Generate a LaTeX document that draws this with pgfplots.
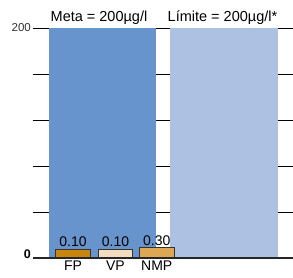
\documentclass[border=0pt]{standalone}
\usepackage{pgfplots}
\pgfplotsset{compat=1.18}
\usepackage{fontspec}
\setmainfont{Liberation Sans}
\definecolor{metablue}{HTML}{6794CC}
\definecolor{limblue}{HTML}{ADC2E3}
\definecolor{fpcol}{HTML}{C8860F}
\definecolor{vpcol}{HTML}{F3DDBE}
\definecolor{nmpcol}{HTML}{DDA853}
\begin{document}
\begin{tikzpicture}
\begin{axis}[
  at={(0,0)}, anchor=south west,
  scale only axis, width=260pt, height=230pt,
  xmin=33, xmax=293, ymin=0, ymax=200,
  clip=false,
  axis line style={draw=none},
  ytick={0,40,80,120,160,200},
  yticklabels={{\smash{\fontsize{12.5}{12}\selectfont\textbf{0}}},,,,,{\color{black!80}200}},
  ymajorgrids, grid style={black, line width=0.9pt},
  major tick length=0pt,
  xtick={73,115.5,156.7},
  xticklabels={FP,VP,NMP},
  xticklabel style={font=\fontsize{14}{14}\selectfont, yshift=1pt},
  yticklabel style={inner sep=2pt, font=\fontsize{11.5}{12}\selectfont},
  /pgf/number format/assume math mode=true,
]
\addplot[ybar, bar width=107, bar shift=0pt, fill=metablue, draw=none] coordinates {(102.5,200)};
\addplot[ybar, bar width=107.7, bar shift=0pt, fill=limblue, draw=none] coordinates {(223.85,200)};
\addplot[ybar, bar width=34.6, bar shift=0pt, fill=fpcol, draw=black!80, line width=1pt,
  point meta=explicit symbolic, nodes near coords, every node near coord/.style={font=\fontsize{14}{14}\selectfont, anchor=south, yshift=-1pt}]
  coordinates {(73,7) [0.10]};
\addplot[ybar, bar width=33.6, bar shift=0pt, fill=vpcol, draw=black!80, line width=1pt,
  point meta=explicit symbolic, nodes near coords, every node near coord/.style={font=\fontsize{14}{14}\selectfont, anchor=south, yshift=-1pt}]
  coordinates {(115.5,7) [0.10]};
\addplot[ybar, bar width=34.7, bar shift=0pt, fill=nmpcol, draw=black!80, line width=1pt,
  point meta=explicit symbolic, nodes near coords, every node near coord/.style={font=\fontsize{14}{14}\selectfont, anchor=south, yshift=-1pt}]
  coordinates {(156.7,8.7) [0.30]};
\draw[black!85, line width=1.3pt] (axis cs:33,0) -- (axis cs:293,0);
\node[anchor=base, font=\fontsize{14.5}{14}\selectfont, inner sep=0pt] at ([yshift=7pt]axis cs:99,200) {Meta = 200µg/l};
\node[anchor=base, font=\fontsize{14.5}{14}\selectfont, inner sep=0pt] at ([yshift=7pt]axis cs:222.5,200) {Límite = 200µg/l*};
\end{axis}
\pgfresetboundingbox
\path (-33pt,-19pt) rectangle (260pt,258pt);
\end{tikzpicture}
\end{document}
